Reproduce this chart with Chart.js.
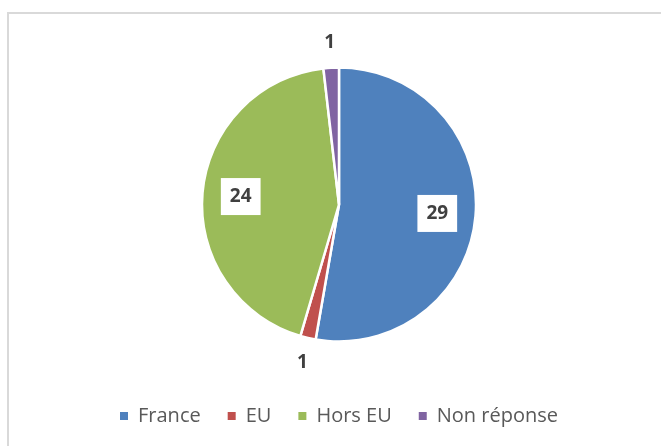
<!DOCTYPE html>
<html>
<head>
<meta charset="utf-8">
<script src="https://cdn.jsdelivr.net/npm/chart.js@4/dist/chart.umd.min.js"></script>
<style>
  html, body { margin: 0; padding: 0; background: #fff; overflow: hidden; }
  #frame { position: absolute; left: 7px; top: 12px; width: 700px; height: 500px; border: 2px solid #d9d9d9; }
  #wrap { position: absolute; left: 0; top: 0; width: 661px; height: 446px; }
</style>
</head>
<body>
<div id="frame"></div>
<div id="wrap"><canvas id="chart" width="661" height="446"></canvas></div>
<script>
const categories = ["France", "EU", "Hors EU", "Non réponse"];
const counts = [29, 1, 24, 1];
const colors = ["#4f81bd", "#c0504d", "#9bbb59", "#8064a2"];

// value labels: inside box for big slices, outside for small ones
const sliceLabels = {
  id: "sliceLabels",
  afterDatasetsDraw(chart) {
    const ctx = chart.ctx;
    const meta = chart.getDatasetMeta(0);
    ctx.save();
    ctx.font = "bold 19px 'Open Sans'";
    ctx.textAlign = "center";
    ctx.textBaseline = "middle";
    meta.data.forEach((arc, i) => {
      const p = arc.getProps(["x", "y", "startAngle", "endAngle", "outerRadius"], true);
      const mid = (p.startAngle + p.endAngle) / 2;
      const txt = String(counts[i]);
      if (counts[i] >= 5) {
        const r = p.outerRadius * 0.72;
        const x = p.x + Math.cos(mid) * r;
        const y = p.y + Math.sin(mid) * r;
        const w = ctx.measureText(txt).width + 18;
        ctx.fillStyle = "#fff";
        ctx.fillRect(x - w / 2, y - 18, w, 37);
        ctx.fillStyle = "#404040";
        ctx.fillText(txt, x, y + 1);
      } else {
        const r = p.outerRadius + 25;
        ctx.fillStyle = "#404040";
        ctx.fillText(txt, p.x + Math.cos(mid) * r, p.y + Math.sin(mid) * r);
      }
    });
    ctx.restore();
  }
};

new Chart(document.getElementById("chart"), {
  type: "pie",
  data: {
    labels: categories,
    datasets: [{
      data: counts,
      backgroundColor: colors,
      borderColor: "#fff",
      borderWidth: 2.5,
      radius: 137
    }]
  },
  options: {
    responsive: false,
    animation: false,
    layout: { padding: { top: 30, left: 17, right: 0, bottom: 10 } },
    plugins: {
      tooltip: { enabled: false },
      legend: {
        position: "bottom",
        labels: {
          boxWidth: 8,
          boxHeight: 8,
          padding: 27,
          color: "#595959",
          font: { family: "'Open Sans'", size: 20 },
          generateLabels(chart) {
            return chart.data.labels.map((l, i) => ({
              text: l,
              fillStyle: colors[i],
              strokeStyle: colors[i],
              lineWidth: 0,
              fontColor: "#595959",
              index: i
            }));
          }
        }
      }
    }
  },
  plugins: [sliceLabels]
});
</script>
</body>
</html>
